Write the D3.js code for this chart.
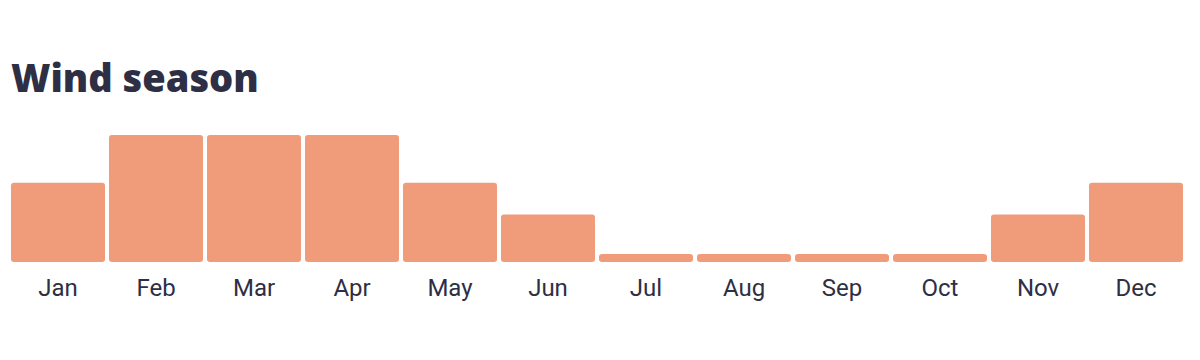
<!DOCTYPE html>
<html>
<head>
<meta charset="utf-8">
<script src="https://cdn.jsdelivr.net/npm/d3@7"></script>
<style>
  html, body { margin: 0; padding: 0; background: #fff; }
  svg { display: block; }
</style>
</head>
<body>
<svg id="chart"></svg>
<script>
const title = 'Wind season'
const months = ['Jan', 'Feb', 'Mar', 'Apr', 'May', 'Jun', 'Jul', 'Aug', 'Sep', 'Oct', 'Nov', 'Dec']
const windiness = [10, 16, 16, 16, 10, 6, 1, 1, 1, 1, 6, 10]

const width = 1200
const height = 360
const margin = { top: 135, right: 17, bottom: 98, left: 11 }

const svg = d3.select('#chart').attr('width', width).attr('height', height)

svg.append('text')
    .attr('x', 11)
    .attr('y', 92)
    .attr('font-family', 'Open Sans')
    .attr('font-weight', 800)
    .attr('font-size', 38)
    .attr('fill', '#2e2f45')
    .text(title)

const xScale = d3.scaleBand()
    .domain(months)
    .range([margin.left, width - margin.right])
    .paddingInner(4 / 98)
    .paddingOuter(0)

const yScale = d3.scaleLinear()
    .domain([0, d3.max(windiness)])
    .range([height - margin.bottom, margin.top])

svg.append('g')
    .selectAll('rect')
    .data(windiness)
    .join('rect')
    .attr('x', (d, i) => xScale(months[i]))
    .attr('y', d => yScale(d))
    .attr('width', xScale.bandwidth())
    .attr('height', d => yScale(0) - yScale(d))
    .attr('rx', 3)
    .attr('fill', '#f09b7a')

const axis = svg.append('g')
    .attr('transform', `translate(0,${ height - margin.bottom })`)
    .call(d3.axisBottom(xScale).tickSize(0).tickPadding(17))
axis.select('.domain').remove()
axis.selectAll('text')
    .attr('font-family', 'Roboto')
    .attr('font-size', 24)
    .attr('fill', '#2e2f45')
</script>
</body>
</html>
